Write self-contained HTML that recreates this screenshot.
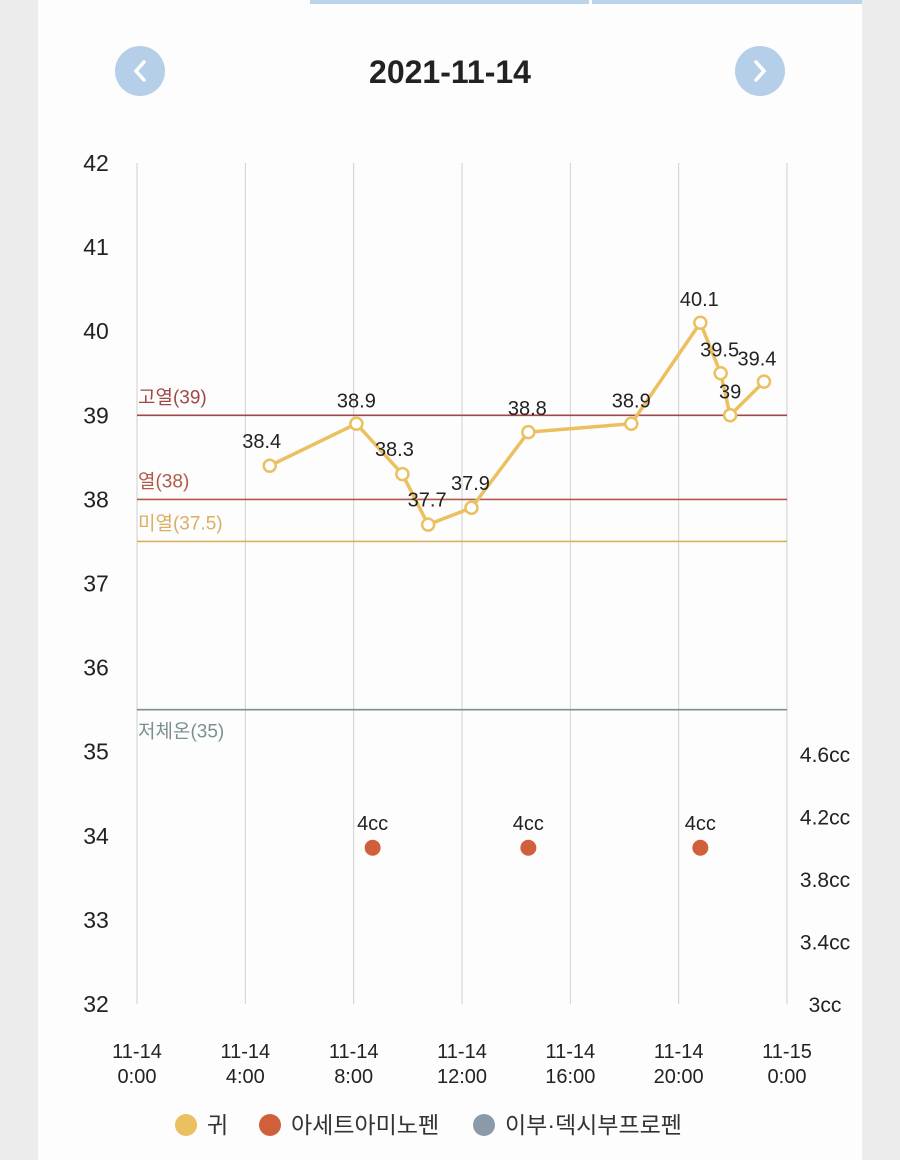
<!DOCTYPE html>
<html><head><meta charset="utf-8"><style>
html,body{margin:0;padding:0;width:900px;height:1160px;background:#ececec;overflow:hidden}
svg{display:block;font-family:"Liberation Sans","Noto Sans CJK KR",sans-serif}
</style></head><body>
<svg id="chart" width="900" height="1160" viewBox="0 0 900 1160">
<rect x="38" y="0" width="824" height="1160" fill="#fdfdfd"/>
<rect x="310" y="0" width="279" height="4" fill="#bcd4ea"/>
<rect x="592" y="0" width="270" height="4" fill="#bcd4ea"/>
<g><circle cx="140" cy="71" r="25" fill="#b6cfe8"/><path d="M144 62 L136 71 L144 80" stroke="#fff" stroke-width="3.5" fill="none" stroke-linecap="round"/></g>
<g><circle cx="760" cy="71" r="25" fill="#b6cfe8"/><path d="M756 62 L764 71 L756 80" stroke="#fff" stroke-width="3.5" fill="none" stroke-linecap="round"/></g>
<text x="450" y="83" text-anchor="middle" font-size="32" font-weight="bold" fill="#222">2021-11-14</text>
<g id="plot"></g>
<g font-size="23" fill="#333">
<g><circle cx="186" cy="1125" r="11" fill="#eac060"/><text x="207" y="1133">귀</text></g>
<g><circle cx="270" cy="1125" r="11" fill="#d0603c"/><text x="291" y="1133">아세트아미노펜</text></g>
<g><circle cx="484" cy="1125" r="11" fill="#8a9aa8"/><text x="505" y="1133">이부·덱시부프로펜</text></g>
</g>
</svg>
<script>
const tempHours=[4.9,8.1,9.8,10.75,12.35,14.45,18.25,20.8,21.55,21.9,23.15];
const tempValues=[38.4,38.9,38.3,37.7,37.9,38.8,38.9,40.1,39.5,39,39.4];
const drugHours=[8.7,14.45,20.8];
const drugValues=[4,4,4];
const yTicks=[42,41,40,39,38,37,36,35,34,33,32];
const ccTicks=[4.6,4.2,3.8,3.4,3];
const ccLabels=["4.6cc","4.2cc","3.8cc","3.4cc","3cc"];
const xTickHours=[0,4,8,12,16,20,24];
const xTickLabels=[["11-14","0:00"],["11-14","4:00"],["11-14","8:00"],["11-14","12:00"],["11-14","16:00"],["11-14","20:00"],["11-15","0:00"]];
const thresholdValues=[39,38,37.5,35.5];
const thresholdLabels=["고열(39)","열(38)","미열(37.5)","저체온(35)"];

const NS="http://www.w3.org/2000/svg";
const g=document.getElementById('plot');
const X=h=>137+h*650/24;
const Y=v=>163+(42-v)*84.1;
const Ycc=c=>1004-(c-3)*250/1.6;
function mk(t,a,txt){const e=document.createElementNS(NS,t);for(const k in a)e.setAttribute(k,a[k]);if(txt!=null)e.textContent=txt;g.appendChild(e);return e;}
xTickHours.forEach((h,i)=>{
 const l=mk('line',{x1:X(h),x2:X(h),y1:163,y2:1004,stroke:'#d0d0d0','stroke-width':1});
 
 
 const t=mk('text',{x:X(h),y:1058,'text-anchor':'middle','font-size':20,fill:'#222'},xTickLabels[i][0]);
 
 
 const t2=mk('text',{x:X(h),y:1083,'text-anchor':'middle','font-size':20,fill:'#222'},xTickLabels[i][1]);
 
 
});
yTicks.forEach(v=>{
 const t=mk('text',{x:96,y:Y(v)+8,'text-anchor':'middle','font-size':23,fill:'#222'},v);
 
 
});
ccTicks.forEach((c,i)=>{
 const t=mk('text',{x:825,y:Ycc(c)+8,'text-anchor':'middle','font-size':21,fill:'#222'},ccLabels[i]);
 
 
});
const thColors=['#a04848','#b05a48','#d8b060','#7a9090'];
thresholdValues.forEach((v,i)=>{
 const l=mk('line',{x1:137,x2:787,y1:Y(v),y2:Y(v),stroke:thColors[i],'stroke-width':1.6});
 
 
 const ty=i==3?Y(v)+28:Y(v)-12;
 const t=mk('text',{x:138,y:ty,'font-size':19,fill:thColors[i]},thresholdLabels[i]);
 
 
});
const pts=tempHours.map((h,i)=>X(h)+','+Y(tempValues[i])).join(' ');
const pl=mk('polyline',{points:pts,fill:'none',stroke:'#eac060','stroke-width':3.5,'stroke-linejoin':'round'});


tempHours.forEach((h,i)=>{
 const c=mk('circle',{cx:X(h),cy:Y(tempValues[i]),r:6,fill:'#fff',stroke:'#eac060','stroke-width':2.5});
 
 
});
const lblPos=[[-8,-18],[0,-16],[-8,-18],[-1,-18],[-1,-18],[-1,-17],[0,-16],[-1,-17],[-1,-17],[0,-17],[-7,-16]];
tempHours.forEach((h,i)=>{
 const t=mk('text',{x:X(h)+lblPos[i][0],y:Y(tempValues[i])+lblPos[i][1],'text-anchor':'middle','font-size':20,fill:'#222'},tempValues[i]);
 
 
});
drugHours.forEach((h,i)=>{
 const c=mk('circle',{cx:X(h),cy:Ycc(drugValues[i]),r:8,fill:'#d0603c'});
 
 
 const t=mk('text',{x:X(h),y:Ycc(drugValues[i])-18,'text-anchor':'middle','font-size':20,fill:'#222'},drugValues[i]+'cc');
 
 
});
</script>
</body></html>
